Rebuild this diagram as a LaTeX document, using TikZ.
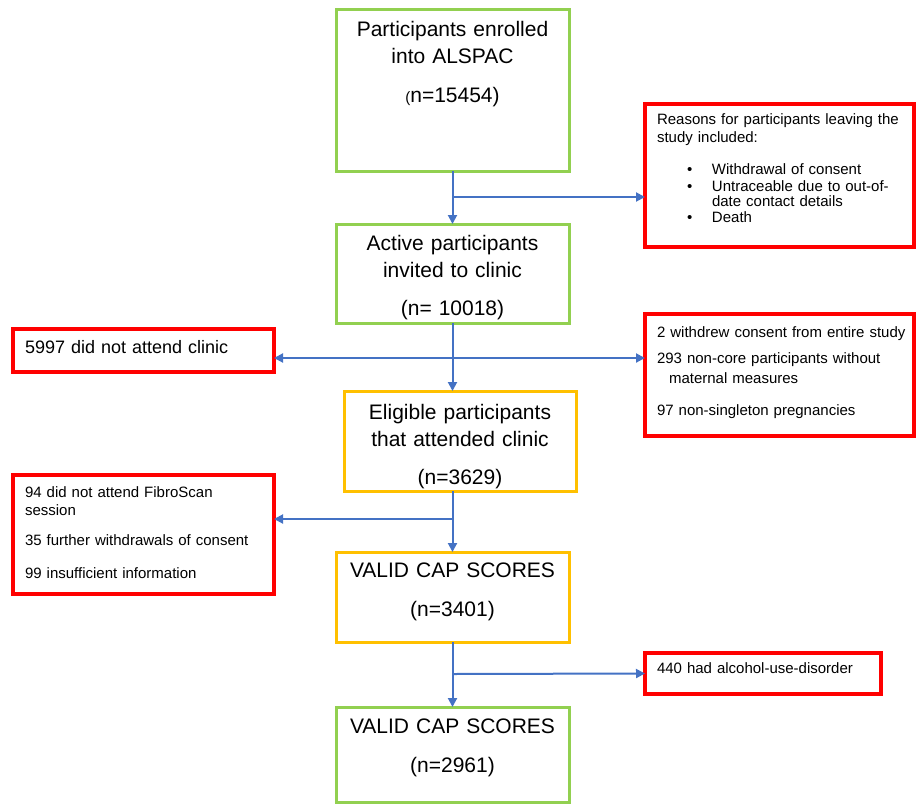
\documentclass[tikz,border=0pt]{standalone}
\usepackage{fontspec}
\setmainfont{Liberation Sans}
\usetikzlibrary{arrows.meta}
\definecolor{boxgreen}{HTML}{92D050}
\definecolor{boxorange}{HTML}{FFC000}
\definecolor{boxred}{HTML}{FF0000}
\definecolor{flowblue}{HTML}{4472C4}
\begin{document}
\begin{tikzpicture}[x=1pt,y=-1pt]
      % Define styles for nodes
      \tikzstyle{stage} = [anchor=north west, draw, rectangle, line width=3pt,
      outer sep=0pt, inner xsep=0pt, inner ysep=0pt, align=center,
      text width=233pt, fill=white, font=\fontsize{21}{27}\selectfont]
      \tikzstyle{greenstage} = [stage, draw=boxgreen]
      \tikzstyle{orangestage} = [stage, draw=boxorange]
      \tikzstyle{reason} = [anchor=north west, draw=boxred, rectangle,
      line width=3.5pt, outer sep=0pt, inner xsep=12pt, inner ysep=0pt,
      align=left, fill=white, font=\fontsize{15}{18}\selectfont]
      \tikzstyle{flow} = [flowblue, line width=2pt,
      -{Triangle[length=9pt,width=9pt]}]

      \useasboundingbox (0,0) rectangle (916,804);

      % Stages down the middle
      \node[greenstage, text height=27pt, text depth=135pt] (enrol) at (336,9)
      {Participants enrolled\\into ALSPAC\\[12pt]{\fontsize{15}{15}\selectfont(}n=15454)};
      \node[greenstage, text height=26pt, text depth=73pt] (active) at (336,224)
      {Active participants\\invited to clinic\\[11pt](n= 10018)};
      \node[orangestage, text width=232pt, text height=28pt, text depth=72pt] (eligible) at (344,391)
      {Eligible participants\\that attended clinic\\[11pt](n=3629)};
      \node[orangestage, text height=25pt, text depth=65pt] (valid1) at (336,552)
      {VALID CAP SCORES\\[12pt](n=3401)};
      \node[greenstage, text height=26pt, text depth=69pt] (valid2) at (336,707)
      {VALID CAP SCORES\\[12pt](n=2961)};

      % Exclusions
      \node[reason, text width=245pt, text height=20pt, text depth=123pt] (reasons) at (645,104)
      {\mbox{Reasons for participants leaving the}\\study included:\\[14pt]
      \hspace*{30pt}\makebox[25pt][l]{\textbullet}Withdrawal of consent\\[-1pt]
      \hspace*{30pt}\makebox[25pt][l]{\textbullet}Untraceable due to out-of-\\[-2.5pt]
      \hspace*{55pt}date contact details\\[-2pt]
      \hspace*{30pt}\makebox[25pt][l]{\textbullet}Death};
      \node[reason, font=\fontsize{18}{22}\selectfont, text width=237pt, text height=24pt, text depth=19pt] (noattend) at (13,329)
      {5997 did not attend clinic};
      \node[reason, text width=245pt, text height=23pt, text depth=99pt] (excl1) at (645,314)
      {\mbox{2 withdrew consent from entire study}\\[8pt]
      293 non-core participants without\\[2pt]
      \hspace*{12pt}maternal measures\\[14pt]
      97 non-singleton pregnancies};
      \node[reason, text width=237pt, text height=22pt, text depth=97pt] (excl2) at (13,475)
      {94 did not attend FibroScan\\session\\[12pt]
      35 further withdrawals of consent\\[15pt]
      99 insufficient information};
      \node[reason, text width=212pt, text height=20pt, text depth=21pt] (alcohol) at (645,653)
      {440 had alcohol-use-disorder};

      % Split points on the main line
      \coordinate (split1) at (452.5,197);
      \coordinate (split2) at (452.5,358);
      \coordinate (split3) at (452.5,519);
      \coordinate (split4) at (452.5,674);

      % Connections
      \draw[flow] (enrol.south) -- (active.north);
      \draw[flow] (split1) -- (split1 -| reasons.west);
      \draw[flow] (active.south) -- (active.south |- eligible.north);
      \draw[flow] (split2) -- (split2 -| noattend.east);
      \draw[flow] (split2) -- (split2 -| excl1.west);
      \draw[flow] (eligible.south -| valid1.north) -- (valid1.north);
      \draw[flow] (split3) -- (split3 -| excl2.east);
      \draw[flow] (valid1.south) -- (valid2.north);
      \draw[flow] (split4) -- (alcohol.west);
\end{tikzpicture}
\end{document}
